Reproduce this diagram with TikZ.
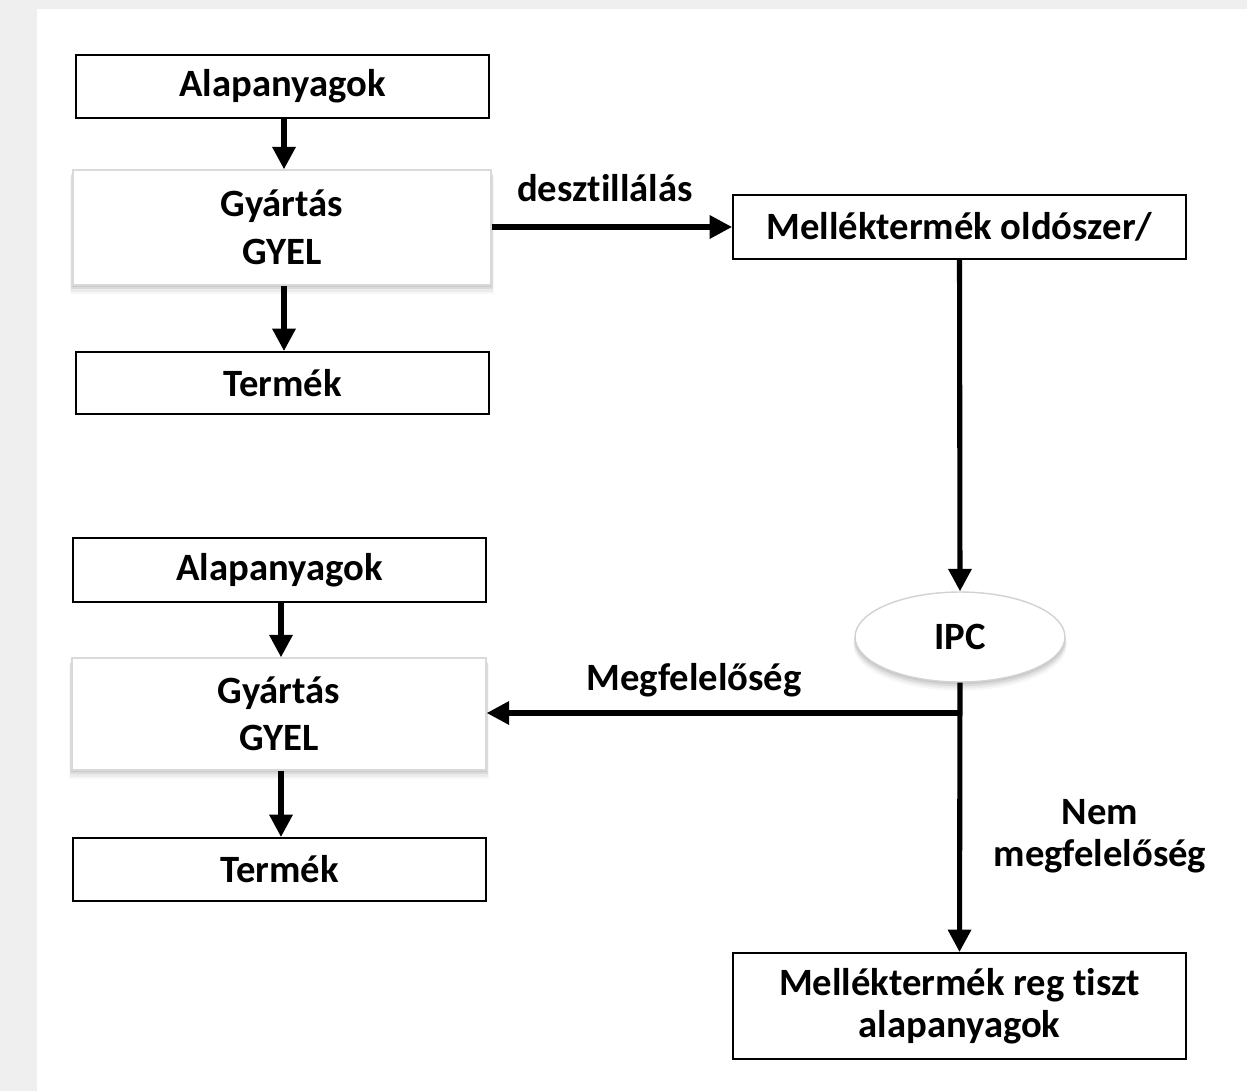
\documentclass[tikz,border=0pt]{standalone}
\usepackage{fontspec}
\setmainfont[Ligatures=NoCommon]{Carlito}
\usetikzlibrary{arrows.meta,shadows,shapes.geometric}
\definecolor{pagegray}{HTML}{EFEFEF}
\tikzset{
  box/.style={draw=black, line width=1.1pt, fill=white, inner sep=0pt, align=center,
    font=\fontsize{22}{27}\selectfont\bfseries},
  softshadow/.style={
    general shadow={shadow xshift=0mm, shadow yshift=-0.4mm, shadow scale=1.004, fill=gray, opacity=0.18},
    general shadow={shadow xshift=0mm, shadow yshift=-0.8mm, shadow scale=1.008, fill=gray, opacity=0.14},
    general shadow={shadow xshift=0mm, shadow yshift=-1.2mm, shadow scale=1.012, fill=gray, opacity=0.10},
    general shadow={shadow xshift=0mm, shadow yshift=-1.6mm, shadow scale=1.016, fill=gray, opacity=0.06}},
  shbox/.style={box, draw=gray!30, line width=0.8pt, softshadow},
  ipcshape/.style={ellipse, draw=gray!35, line width=0.8pt, fill=white, inner sep=0pt,
    font=\fontsize{22}{27}\selectfont\bfseries, softshadow},
  lbl/.style={inner sep=0pt, align=center, font=\fontsize{22}{24}\selectfont\bfseries},
  flow/.style={line width=2.9pt, -{Triangle[length=4.5mm,width=4.5mm]}}
}
\begin{document}
\begin{tikzpicture}[x=0.02cm,y=-0.02cm]
\useasboundingbox (0,0) rectangle (1247,1091);
\fill[pagegray] (0,0) rectangle (1247,1091);
\fill[white] (37,9) rectangle (1247,1091);

% top flow
\node[box, minimum width=8.26cm, minimum height=1.26cm] (a1) at (282.5,86.5) {Alapanyagok};
\node[shbox, minimum width=8.36cm, minimum height=2.3cm] (g1) at (282,227.5) {Gyártás\\GYEL};
\node[box, minimum width=8.26cm, minimum height=1.24cm] (t1) at (282.5,383) {Termék};
\node[box, minimum width=9.06cm, minimum height=1.28cm] (m1) at (959.5,227) {Melléktermék oldószer/};

% bottom flow
\node[box, minimum width=8.26cm, minimum height=1.28cm] (a2) at (279.5,570) {Alapanyagok};
\node[shbox, minimum width=8.28cm, minimum height=2.24cm] (g2) at (279,714) {Gyártás\\GYEL};
\node[box, minimum width=8.26cm, minimum height=1.26cm] (t2) at (279.5,869.5) {Termék};

\node[ipcshape, minimum width=4.2cm, minimum height=1.8cm] (ipc) at (960,637) {IPC};
\node[box, minimum width=9.06cm, minimum height=2.12cm,
  font=\fontsize{22}{24}\selectfont\bfseries] (m2) at (959.5,1006) {Melléktermék reg tiszt\\alapanyagok};

\coordinate (br) at (960,713);

% connectors
\draw[flow] (a1.south -| 284,0) -- (g1.north -| 284,0);
\draw[flow] (g1.south -| 284,0) -- (t1.north -| 284,0);
\draw[flow] (g1.east |- m1.west) -- (m1.west);
\draw[flow] (m1.south) -- (ipc.north);
\draw[flow] (ipc.south) -- (m2.north);
\draw[flow] (br) -- (g2.east |- br);
\draw[flow] (a2.south -| 281,0) -- (g2.north -| 281,0);
\draw[flow] (g2.south -| 281,0) -- (t2.north -| 281,0);

% labels
\node[lbl] (l1) at (605,188) {desztillálás};
\node[lbl] (l2) at (694,680) {Megfelelőség};
\node[lbl] (l3) at (1100,836) {Nem\\megfelelőség};
\end{tikzpicture}
\end{document}
